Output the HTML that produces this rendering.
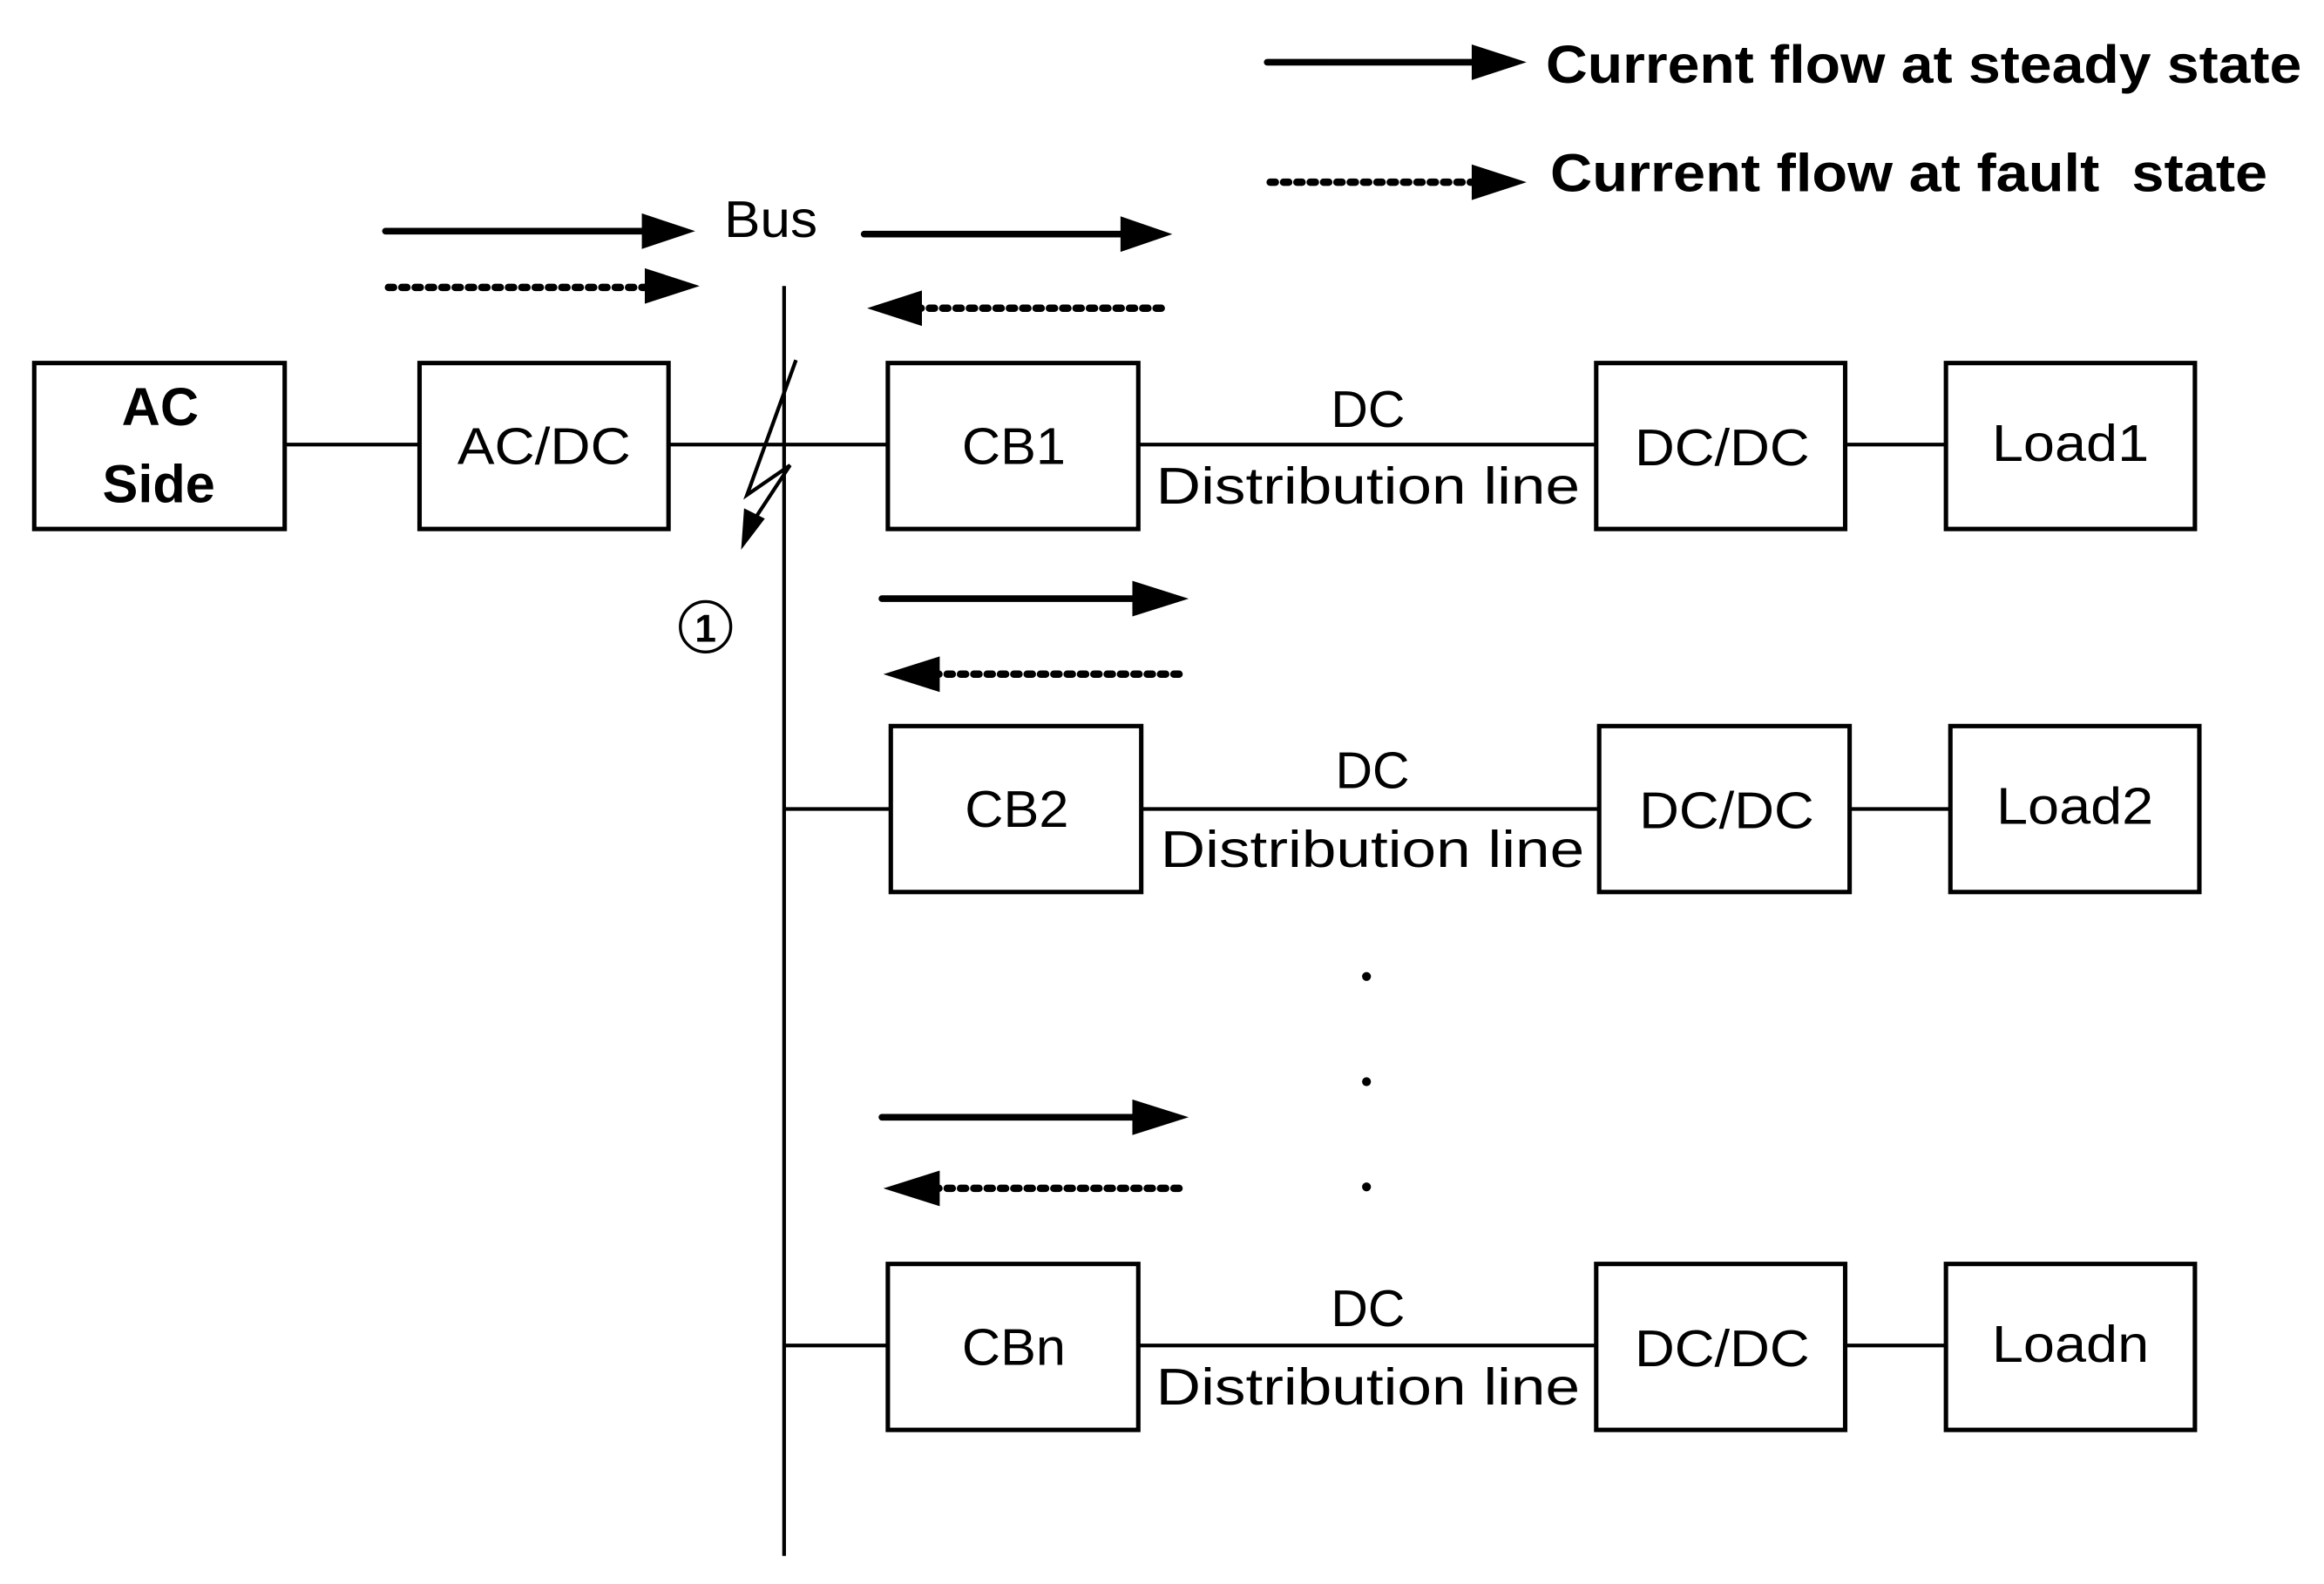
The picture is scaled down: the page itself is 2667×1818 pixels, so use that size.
<!DOCTYPE html>
<html><head><meta charset="utf-8"><style>html,body{margin:0;padding:0;background:#fff}svg{display:block}</style></head>
<body>
<svg width="2667" height="1818" viewBox="0 0 1568 1069" xmlns="http://www.w3.org/2000/svg">
<rect width="1568" height="1069" fill="#fff"/>
<g font-family="'Liberation Sans', sans-serif" fill="#000">
<g fill="none" stroke="#000" stroke-width="3">
<rect x="23" y="245" width="169" height="112"/>
<rect x="283" y="245" width="168" height="112"/>
<rect x="599" y="245" width="169" height="112"/>
<rect x="1077" y="245" width="168" height="112"/>
<rect x="1313" y="245" width="168" height="112"/>
<rect x="601" y="490" width="169" height="112"/>
<rect x="1079" y="490" width="169" height="112"/>
<rect x="1316" y="490" width="168" height="112"/>
<rect x="599" y="853" width="169" height="112"/>
<rect x="1077" y="853" width="168" height="112"/>
<rect x="1313" y="853" width="168" height="112"/>
</g>
<g stroke="#000" stroke-width="2.5">
<line x1="192" y1="300" x2="283" y2="300"/>
<line x1="451" y1="300" x2="599" y2="300"/>
<line x1="768" y1="300" x2="1077" y2="300"/>
<line x1="1245" y1="300" x2="1313" y2="300"/>
<line x1="529" y1="546" x2="601" y2="546"/>
<line x1="770" y1="546" x2="1079" y2="546"/>
<line x1="1248" y1="546" x2="1316" y2="546"/>
<line x1="529" y1="908" x2="599" y2="908"/>
<line x1="768" y1="908" x2="1077" y2="908"/>
<line x1="1245" y1="908" x2="1313" y2="908"/>
<line x1="529" y1="193" x2="529" y2="1050"/>
</g>
<polyline points="537,243 504,334 533,314 508,352" fill="none" stroke="#000" stroke-width="2.5"/>
<polygon points="500,371 502,343 516,350" fill="#000"/>
<g stroke="#000" stroke-width="4.5" stroke-linecap="round">
<line x1="260" y1="156" x2="440" y2="156"/>
<line x1="583" y1="158" x2="760" y2="158"/>
<line x1="595" y1="404" x2="770" y2="404"/>
<line x1="595" y1="754" x2="770" y2="754"/>
<line x1="855" y1="42" x2="1000" y2="42"/>
</g>
<g fill="#000">
<polygon points="433,144 469,156 433,168"/>
<polygon points="756,146 791,158 756,170"/>
<polygon points="764,392 802,404 764,416"/>
<polygon points="764,742 802,754 764,766"/>
<polygon points="993,30 1030,42 993,54"/>
<polygon points="435,181 472,193 435,205"/>
<polygon points="622,196 585,208 622,220"/>
<polygon points="634,443 596,455 634,467"/>
<polygon points="634,790 596,802 634,814"/>
<polygon points="993,111 1030,123 993,135"/>
</g>
<g stroke="#000" stroke-width="5" stroke-dasharray="3.5 5.5" stroke-linecap="round">
<line x1="262" y1="194" x2="440" y2="194"/>
<line x1="618" y1="208" x2="787" y2="208"/>
<line x1="630" y1="455" x2="798" y2="455"/>
<line x1="630" y1="802" x2="798" y2="802"/>
<line x1="857" y1="123" x2="996" y2="123"/>
</g>
<circle cx="922" cy="659" r="3"/>
<circle cx="922" cy="730" r="3"/>
<circle cx="922" cy="801" r="3"/>
<g font-size="35" text-anchor="middle">
<text x="108" y="287" font-weight="bold" font-size="36">AC</text>
<text x="107" y="339" font-weight="bold" font-size="36">Side</text>
<text x="367" y="313" textLength="117" lengthAdjust="spacingAndGlyphs">AC/DC</text>
<text x="684" y="313" textLength="70" lengthAdjust="spacingAndGlyphs">CB1</text>
<text x="686" y="558" textLength="70" lengthAdjust="spacingAndGlyphs">CB2</text>
<text x="684" y="921" textLength="70" lengthAdjust="spacingAndGlyphs">CBn</text>
<text x="1162" y="314" textLength="118" lengthAdjust="spacingAndGlyphs">DC/DC</text>
<text x="1165" y="559" textLength="118" lengthAdjust="spacingAndGlyphs">DC/DC</text>
<text x="1162" y="922" textLength="118" lengthAdjust="spacingAndGlyphs">DC/DC</text>
<text x="1397" y="311" textLength="106" lengthAdjust="spacingAndGlyphs">Load1</text>
<text x="1400" y="556" textLength="106" lengthAdjust="spacingAndGlyphs">Load2</text>
<text x="1397" y="919" textLength="106" lengthAdjust="spacingAndGlyphs">Loadn</text>
<text x="923" y="288" textLength="50" lengthAdjust="spacingAndGlyphs">DC</text>
<text x="923" y="340" textLength="286" lengthAdjust="spacingAndGlyphs">Distribution line</text>
<text x="926" y="532" textLength="50" lengthAdjust="spacingAndGlyphs">DC</text>
<text x="926" y="585" textLength="286" lengthAdjust="spacingAndGlyphs">Distribution line</text>
<text x="923" y="895" textLength="50" lengthAdjust="spacingAndGlyphs">DC</text>
<text x="923" y="948" textLength="286" lengthAdjust="spacingAndGlyphs">Distribution line</text>
<text x="520" y="160" textLength="63" lengthAdjust="spacingAndGlyphs">Bus</text>
</g>
<text x="1043" y="56" font-size="36" font-weight="bold" textLength="510" lengthAdjust="spacingAndGlyphs">Current flow at steady state</text>
<text x="1046" y="129" font-size="36" font-weight="bold" textLength="484" lengthAdjust="spacingAndGlyphs" xml:space="preserve">Current flow at fault  state</text>
<circle cx="476" cy="423" r="17" fill="none" stroke="#000" stroke-width="2"/>
<text x="476" y="433" font-size="26" font-weight="bold" text-anchor="middle">1</text>
</g>
</svg>
</body></html>
